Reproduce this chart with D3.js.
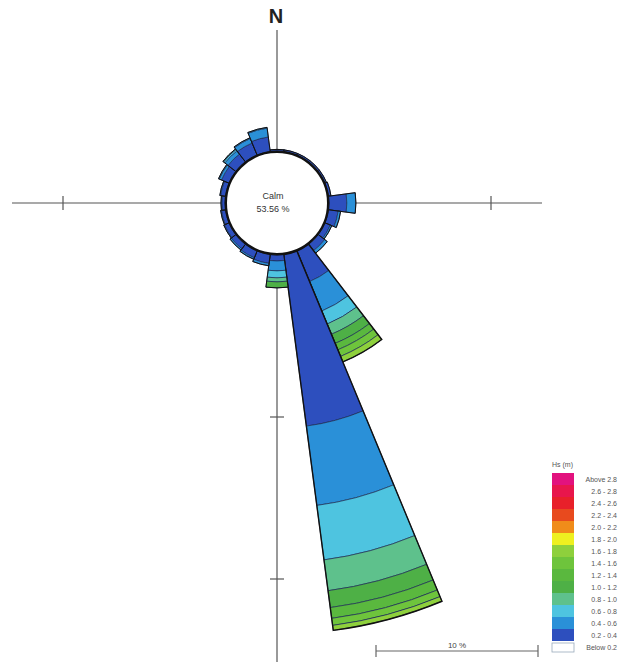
<!DOCTYPE html>
<html><head><meta charset="utf-8">
<script src="https://cdn.jsdelivr.net/npm/d3@7"></script>
<style>body{margin:0;background:#fff}svg{display:block}</style>
</head><body>
<svg id="c" width="631" height="666"></svg>
<script>
// Direction sectors (deg, clockwise from North), 15 deg each
const directions = [0,15,30,45,60,75,90,105,120,135,150,165,180,195,210,225,240,255,270,285,300,315,330,345];
// Frequency (%) per Hs class for each direction
const hs02_04 = [0.1,0.1,0.1,0.1,0.1,0.15,1.1,0.6,0.35,0.5,2.04,10.68,0.37,0.55,0.45,0.35,0.3,0.25,0.2,0.3,0.5,0.6,0.8,0.9];
const hs04_06 = [0,0,0,0,0,0,0.56,0.15,0.1,0.2,1.97,4.94,0.61,0.15,0.1,0.1,0.05,0.05,0.05,0.05,0.15,0.25,0.3,0.55];
const hs06_08 = [0,0,0,0,0,0,0,0,0,0,0.87,3.39,0.43,0,0,0,0,0,0,0,0.05,0.1,0.05,0.05];
const hs08_10 = [0,0,0,0,0,0,0,0,0,0,0.68,1.92,0.25,0,0,0,0,0,0,0,0,0.05,0,0];
const hs10_12 = [0,0,0,0,0,0,0,0,0,0,0.61,1.05,0.37,0,0,0,0,0,0,0,0,0,0,0];
const hs12_14 = [0,0,0,0,0,0,0,0,0,0,0.43,0.67,0,0,0,0,0,0,0,0,0,0,0,0];
const hs14_16 = [0,0,0,0,0,0,0,0,0,0,0.44,0.44,0,0,0,0,0,0,0,0,0,0,0,0];
const hs16_18 = [0,0,0,0,0,0,0,0,0,0,0.37,0.31,0,0,0,0,0,0,0,0,0,0,0,0];
const calmPct = "53.56 %";
const classLabels = ["Above 2.8","2.6 - 2.8","2.4 - 2.6","2.2 - 2.4","2.0 - 2.2","1.8 - 2.0","1.6 - 1.8","1.4 - 1.6","1.2 - 1.4","1.0 - 1.2","0.8 - 1.0","0.6 - 0.8","0.4 - 0.6","0.2 - 0.4","Below 0.2"];
const classColors = ["#e2127e","#e8164c","#e8202a","#e84a1e","#f08c1a","#eef020","#8ed03c","#6ec43c","#5ab83e","#4eb046","#5ec18c","#4ec4e0","#2a90d8","#2d4fbe","#ffffff"];
const axisTicks = [10, 20];

const bands = [hs02_04,hs04_06,hs06_08,hs08_10,hs10_12,hs12_14,hs14_16,hs16_18];
const bandColors = classColors.slice(0,14).reverse(); // 0.2-0.4 upward

const svg = d3.select("#c");
const cx = 277, cy = 203, r0 = 52;
const r = d3.scaleLinear().domain([0,10]).range([r0, r0+162]);
const font = "'Liberation Sans', Arial, sans-serif";

// axes
const ax = svg.append("g").attr("stroke","#555").attr("stroke-width",1.2);
ax.append("line").attr("x1",12).attr("x2",542).attr("y1",cy).attr("y2",cy);
ax.append("line").attr("x1",cx).attr("x2",cx).attr("y1",30).attr("y2",662);
axisTicks.forEach(t=>{
  const d = r(t);
  if (t===10){
    [cx-d,cx+d].forEach(x=>ax.append("line").attr("x1",x).attr("x2",x).attr("y1",cy-7).attr("y2",cy+7));
  }
  ax.append("line").attr("x1",cx-7).attr("x2",cx+7).attr("y1",cy+d).attr("y2",cy+d);
});
svg.append("text").attr("x",cx-1).attr("y",23).attr("text-anchor","middle")
  .attr("font-family",font).attr("font-size",20).attr("font-weight","bold").attr("fill","#222").text("N");

// petals
const g = svg.append("g").attr("transform",`translate(${cx},${cy})`);
const arc = d3.arc();
const toRad = d => d*Math.PI/180;
directions.forEach((dir,i)=>{
  let cum = 0;
  const a0 = toRad(dir-7.5), a1 = toRad(dir+7.5);
  bands.forEach((b,j)=>{
    const v = b[i];
    if (v<=0) return;
    g.append("path").attr("d",arc({innerRadius:r(cum),outerRadius:r(cum+v),startAngle:a0,endAngle:a1}))
      .attr("fill",bandColors[j]).attr("stroke","#1b2c55").attr("stroke-width",0.7);
    cum += v;
  });
  if (cum>0){
    g.append("path").attr("d",arc({innerRadius:r(0),outerRadius:r(cum),startAngle:a0,endAngle:a1}))
      .attr("fill","none").attr("stroke","#111").attr("stroke-width",cum>3?1.4:1);
  }
});

// calm circle
g.append("circle").attr("r",r0-1).attr("fill","#fff").attr("stroke","#111").attr("stroke-width",2);
g.append("text").attr("x",-4).attr("y",-4).attr("text-anchor","middle").attr("font-family",font)
  .attr("font-size",9).attr("fill","#333").text("Calm");
g.append("text").attr("x",-4).attr("y",9).attr("text-anchor","middle").attr("font-family",font)
  .attr("font-size",9).attr("fill","#333").text(calmPct);

// scale bar
const sb = svg.append("g").attr("stroke","#666").attr("stroke-width",1.2);
const sx0 = 376, sx1 = sx0 + (r(10)-r(0)), sy = 651;
sb.append("line").attr("x1",sx0).attr("x2",sx1).attr("y1",sy).attr("y2",sy);
[sx0,sx1].forEach(x=>sb.append("line").attr("x1",x).attr("x2",x).attr("y1",sy-6).attr("y2",sy+6));
svg.append("text").attr("x",(sx0+sx1)/2).attr("y",sy-3).attr("text-anchor","middle")
  .attr("font-family",font).attr("font-size",8).attr("fill","#444").text("10 %");

// legend
const lg = svg.append("g");
const lx = 552, ly = 473, rowH = 12;
lg.append("text").attr("x",lx).attr("y",ly-6).attr("font-family",font).attr("font-size",7).attr("fill","#555").text("Hs (m)");
classLabels.forEach((lab,i)=>{
  const y = ly + i*rowH;
  const last = i===classLabels.length-1;
  lg.append("rect").attr("x",lx).attr("y",last?y+2:y).attr("width",22).attr("height",last?9:rowH)
    .attr("fill",classColors[i]).attr("stroke",last?"#9ab":"none").attr("stroke-width",0.8);
  lg.append("text").attr("x",617).attr("y",y+rowH/2+2.5).attr("text-anchor","end")
    .attr("font-family",font).attr("font-size",7).attr("fill","#555").text(lab);
});
</script>
</body></html>
